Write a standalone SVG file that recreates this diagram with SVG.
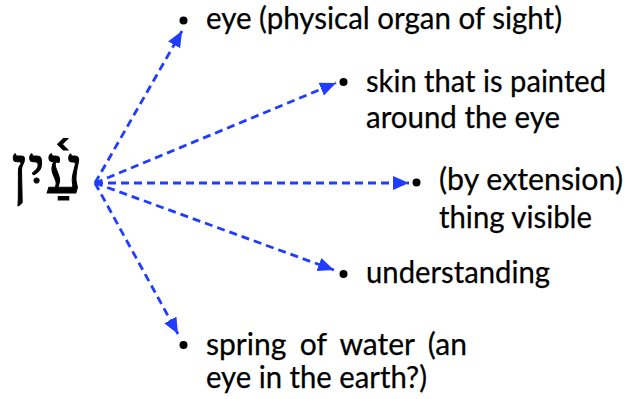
<svg xmlns="http://www.w3.org/2000/svg" width="628" height="399" viewBox="0 0 628 399">
<style>
.t{font-family:Lato,"Liberation Sans",sans-serif;font-size:31px;fill:#000;stroke:#000;stroke-width:0.25}
.b{fill:#000}
.c{stroke:#1f3cff;stroke-width:2.8;stroke-dasharray:8,5;fill:none;marker-end:url(#ah)}
.h{font-family:"Liberation Serif","DejaVu Serif","DejaVu Sans",serif;font-size:66px;fill:#000;stroke:#000;stroke-width:1}
</style>
<defs>
<marker id="ah" markerUnits="userSpaceOnUse" markerWidth="17" markerHeight="15" refX="16" refY="7" orient="auto">
<path d="M0,0 L16,7 L0,14 z" fill="#1f3cff"/>
</marker>
</defs>
<g id="word">
<text class="h" x="47" y="193" text-anchor="middle">עַ֫יִן</text>
</g>
<g id="connectors">
<line class="c" x1="95" y1="183" x2="182" y2="31"/>
<line class="c" x1="95" y1="183" x2="336" y2="83"/>
<line class="c" x1="95" y1="183" x2="409" y2="183"/>
<line class="c" x1="95" y1="183" x2="334" y2="270"/>
<line class="c" x1="95" y1="183" x2="178" y2="334"/>
</g>
<g id="n1">
<circle class="b" cx="183.5" cy="20.5" r="4"/>
<text class="t" x="206" y="29" textLength="356" lengthAdjust="spacingAndGlyphs">eye (physical organ of sight)</text>
</g>
<g id="n2">
<circle class="b" cx="343.5" cy="82" r="4"/>
<text class="t" x="366" y="92" textLength="240" lengthAdjust="spacingAndGlyphs">skin that is painted</text>
<text class="t" x="366" y="128" textLength="194" lengthAdjust="spacingAndGlyphs">around the eye</text>
</g>
<g id="n3">
<circle class="b" cx="416.5" cy="182.5" r="4"/>
<text class="t" x="439" y="190" textLength="184" lengthAdjust="spacingAndGlyphs">(by extension)</text>
<text class="t" x="439" y="228" textLength="153" lengthAdjust="spacingAndGlyphs">thing visible</text>
</g>
<g id="n4">
<circle class="b" cx="343.5" cy="274" r="4"/>
<text class="t" x="366" y="283" textLength="184" lengthAdjust="spacingAndGlyphs">understanding</text>
</g>
<g id="n5">
<circle class="b" cx="183.5" cy="345" r="4"/>
<text class="t" x="206" y="355" word-spacing="6" textLength="261" lengthAdjust="spacingAndGlyphs">spring of water (an</text>
<text class="t" x="206" y="388" textLength="221" lengthAdjust="spacingAndGlyphs">eye in the earth?)</text>
</g>
</svg>
